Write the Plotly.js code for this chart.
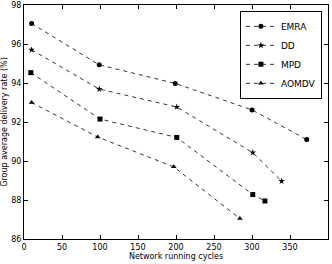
<!DOCTYPE html>
<html><head><meta charset="utf-8">
<script src="https://cdn.plot.ly/plotly-3.0.1.min.js"></script>
<style>html,body{margin:0;padding:0;background:#fff}#c{width:332px;height:264px}</style>
</head><body><div id="c"></div>
<script>
const seriesNames = ["EMRA", "DD", "MPD", "AOMDV"];
const emraX = [10, 99, 199, 300, 372];
const emraY = [97.05, 94.93, 93.98, 92.62, 91.1];
const ddX = [10, 99, 201, 301, 339];
const ddY = [95.7, 93.69, 92.77, 90.43, 88.97];
const mpdX = [9, 100, 201, 301, 317];
const mpdY = [94.53, 92.15, 91.21, 88.28, 87.95];
const aomdvX = [10, 97, 197, 284];
const aomdvY = [93.0, 91.23, 89.7, 87.05];
const xTicks = [0, 50, 100, 150, 200, 250, 300, 350, 400];
const yTicks = [86, 88, 90, 92, 94, 96, 98];

const symbols = ["circle", "star", "square", "triangle-up"];
const sizes = [5, 5, 5, 5];
const xs = [emraX, ddX, mpdX, aomdvX];
const ys = [emraY, ddY, mpdY, aomdvY];
const font = "DejaVu Sans, sans-serif";

const data = seriesNames.map((n, i) => ({
  type: "scatter", mode: "lines+markers", name: n,
  x: xs[i], y: ys[i],
  line: {color: "black", width: 0.8, dash: "4px,4px"},
  marker: {symbol: symbols[i], size: sizes[i], color: "black"}
}));

const axisCommon = {
  showgrid: false, zeroline: false, showline: true, linecolor: "black", linewidth: 1,
  mirror: "ticks", ticks: "inside", ticklen: 4, tickcolor: "black",
  tickfont: {family: font, size: 8, color: "black"}
};

const layout = {
  width: 332, height: 264,
  margin: {l: 24, r: 4, t: 5, b: 25},
  paper_bgcolor: "white", plot_bgcolor: "white",
  showlegend: true,
  legend: {x: 0.98, xanchor: "right", y: 0.975, yanchor: "top",
    bordercolor: "black", borderwidth: 1, bgcolor: "white",
    font: {family: font, size: 9, color: "black"}, tracegroupgap: 0, itemwidth: 30},
  xaxis: Object.assign({}, axisCommon, {range: [0, 400], tickvals: xTicks, automargin: false,
    title: {text: "Network running cycles", font: {family: font, size: 8, color: "black"}, standoff: 2}}),
  yaxis: Object.assign({}, axisCommon, {range: [86, 98], tickvals: yTicks, automargin: false,
    title: {text: "Group average delivery rate (%)", font: {family: font, size: 8, color: "black"}, standoff: 2}})
};

Plotly.newPlot("c", data, layout, {displayModeBar: false, staticPlot: true});
</script></body></html>
